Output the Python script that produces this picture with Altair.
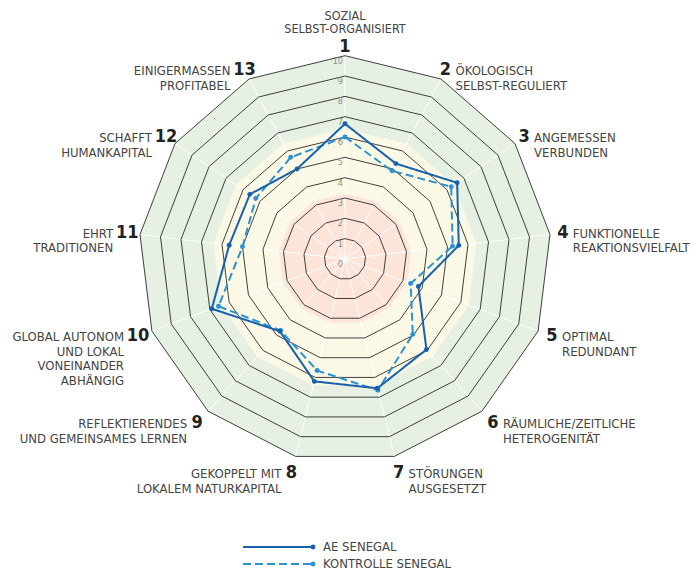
import math
import altair as alt
import pandas as pd

# ---------------- data ----------------
axis_numbers = list(range(1, 14))
axis_texts = [
    "SOZIAL\nSELBST-ORGANISIERT",
    "ÖKOLOGISCH\nSELBST-REGULIERT",
    "ANGEMESSEN\nVERBUNDEN",
    "FUNKTIONELLE\nREAKTIONSVIELFALT",
    "OPTIMAL\nREDUNDANT",
    "RÄUMLICHE/ZEITLICHE\nHETEROGENITÄT",
    "STÖRUNGEN\nAUSGESETZT",
    "GEKOPPELT MIT\nLOKALEM NATURKAPITAL",
    "REFLEKTIERENDES\nUND GEMEINSAMES LERNEN",
    "GLOBAL AUTONOM\nUND LOKAL\nVONEINANDER\nABHÄNGIG",
    "EHRT\nTRADITIONEN",
    "SCHAFFT\nHUMANKAPITAL",
    "EINIGERMASSEN\nPROFITABEL",
]
series_names = ["AE SENEGAL", "KONTROLLE SENEGAL"]
ae_values = [6.65, 5.3, 6.6, 5.55, 3.8, 5.95, 6.55, 6.2, 4.75, 6.9, 5.65, 5.6, 5.0]
ctrl_values = [6.0, 4.9, 6.25, 5.25, 3.4, 4.95, 6.65, 5.65, 4.7, 6.55, 5.0, 5.25, 5.65]
ring_levels = list(range(1, 11))
ring_label_values = list(range(0, 11))
band_limits = [10, 6.4, 3.2]
band_colors = ["#e6f1e3", "#fbf8e6", "#fde4d8"]
series_colors = ["#1761aa", "#2a92d2"]
series_dashes = [[1, 0], [8, 4]]

N = len(axis_numbers)
FONT = "Liberation Sans Narrow, DejaVu Sans Condensed, Roboto, sans-serif"

# ---------------- geometry ----------------
W, H = 683, 564
CX, CY = 337, 251          # centre inside the view (px)
UX, UY = 20.65, 20.33      # px per unit
xs = alt.Scale(domain=[-CX / UX, (W - CX) / UX], nice=False, zero=False)
ys = alt.Scale(domain=[-(H - CY) / UY, CY / UY], nice=False, zero=False)
X = alt.X("x:Q", scale=xs, axis=None)
Y = alt.Y("y:Q", scale=ys, axis=None)

# ---------------- frames ----------------
series_df = pd.DataFrame(
    [{"series": series_names[0], "idx": i, "r": v} for i, v in enumerate(ae_values)]
    + [{"series": series_names[1], "idx": i, "r": v} for i, v in enumerate(ctrl_values)]
)
rings_df = pd.DataFrame([{"level": l, "idx": i, "r": l} for l in ring_levels for i in range(N)])
spokes_df = pd.DataFrame([{"idx": i, "r": r} for i in range(N) for r in (0, 10)])
ring_lab_df = pd.DataFrame([{"idx": 0, "r": v, "lab": str(v)} for v in ring_label_values])
labels_df = pd.DataFrame(
    [{"idx": i, "num": str(n), "txt": t, "digits": len(str(n))}
     for i, (n, t) in enumerate(zip(axis_numbers, axis_texts))]
)

# legend placement (in view px, converted to the chart's data units)
LEG_X0, LEG_X1, LEG_TX = 235, 305, 315
LEG_Y = [539, 556]
legend_df = pd.DataFrame([
    {"series": s, "x": (LEG_X0 - CX) / UX, "x2": (LEG_X1 - CX) / UX,
     "tx": (LEG_TX - CX) / UX, "y": (CY - ly) / UY}
    for s, ly in zip(series_names, LEG_Y)
])


def polar(chart, rexpr="datum.r"):
    return chart.transform_calculate(
        theta=f"datum.idx * 2 * PI / {N}"
    ).transform_calculate(
        x=f"({rexpr}) * sin(datum.theta)",
        y=f"({rexpr}) * cos(datum.theta)",
    )


color = alt.Color("series:N", scale=alt.Scale(domain=series_names, range=series_colors), legend=None)
dash = alt.StrokeDash("series:N", scale=alt.Scale(domain=series_names, range=series_dashes), legend=None)

layers = []

# background bands
for lim, col in zip(band_limits, band_colors):
    bdf = pd.DataFrame([{"idx": i, "r": lim} for i in range(N)])
    layers.append(
        polar(alt.Chart(bdf))
        .mark_line(interpolate="linear-closed", fill=col, stroke=col, strokeWidth=0.5)
        .encode(x=X, y=Y, order="idx:Q")
    )

# spokes
layers.append(
    polar(alt.Chart(spokes_df))
    .mark_line(stroke="white", strokeWidth=1)
    .encode(x=X, y=Y, detail="idx:N", order="r:Q")
)

# rings
layers.append(
    polar(alt.Chart(rings_df))
    .mark_line(interpolate="linear-closed", stroke="#2b2b2b", strokeWidth=0.9)
    .encode(x=X, y=Y, detail="level:N", order="idx:Q")
)

# ring value labels
layers.append(
    polar(alt.Chart(ring_lab_df))
    .mark_text(align="right", baseline="middle", dx=-2, dy=5, fontSize=9, font=FONT, color="#8c8c8c")
    .encode(x=X, y=Y, text="lab:N")
)

# series lines + points
for s in [series_names[1], series_names[0]]:
    sub = series_df[series_df.series == s]
    layers.append(
        polar(alt.Chart(sub))
        .mark_line(interpolate="linear-closed", strokeWidth=2)
        .encode(x=X, y=Y, color=color, strokeDash=dash, order="idx:Q")
    )
    layers.append(
        polar(alt.Chart(sub))
        .mark_circle(size=24, opacity=1)
        .encode(x=X, y=Y, color=color)
    )

# axis numbers
num_r = "10.65 - 0.2 * cos(datum.theta)"
layers.append(
    polar(alt.Chart(labels_df), num_r)
    .mark_text(align="center", baseline="middle", fontSize=18, fontWeight="bold", font=FONT, color="#222")
    .encode(x=X, y=Y, text="num:N")
)

# axis texts
txt_common = dict(baseline="alphabetic", fontSize=13, font=FONT, color="#444", lineBreak="\n", lineHeight=14.5)
top_common = dict(txt_common, fontSize=12.5, lineHeight=13.5)
layers.append(
    polar(alt.Chart(labels_df).transform_filter("datum.idx == 0"), num_r)
    .mark_text(align="center", dy=-26.6, **top_common)
    .encode(x=X, y=Y, text="txt:N")
)
layers.append(
    polar(alt.Chart(labels_df).transform_filter("datum.idx >= 1 && datum.idx <= 6"), num_r)
    .mark_text(align="left", dx=10, dy=5, **txt_common)
    .encode(x=X, y=Y, text="txt:N")
)
layers.append(
    polar(alt.Chart(labels_df).transform_filter("datum.idx >= 7 && datum.digits == 1"), num_r)
    .mark_text(align="right", dx=-10, dy=5, **txt_common)
    .encode(x=X, y=Y, text="txt:N")
)
layers.append(
    polar(alt.Chart(labels_df).transform_filter("datum.digits == 2"), num_r)
    .mark_text(align="right", dx=-14, dy=5, **txt_common)
    .encode(x=X, y=Y, text="txt:N")
)

# legend
leg = alt.Chart(legend_df)
layers.append(
    leg.mark_rule(strokeWidth=2).encode(
        x=alt.X("x:Q", scale=xs, axis=None), x2="x2:Q", y=alt.Y("y:Q", scale=ys, axis=None),
        color=color, strokeDash=dash,
    )
)
layers.append(
    leg.mark_circle(size=24, opacity=1).encode(
        x=alt.X("x2:Q", scale=xs, axis=None), y=alt.Y("y:Q", scale=ys, axis=None), color=color,
    )
)
layers.append(
    leg.mark_text(align="left", baseline="middle", fontSize=13, font=FONT, color="#444").encode(
        x=alt.X("tx:Q", scale=xs, axis=None), y=alt.Y("y:Q", scale=ys, axis=None), text="series:N",
    )
)

chart = (
    alt.layer(*layers)
    .properties(width=W, height=H, autosize=alt.AutoSizeParams(type="none"), padding=0)
    .configure_view(stroke=None)
)

chart.save("out.html", embed_options={"renderer": "svg", "actions": False})
